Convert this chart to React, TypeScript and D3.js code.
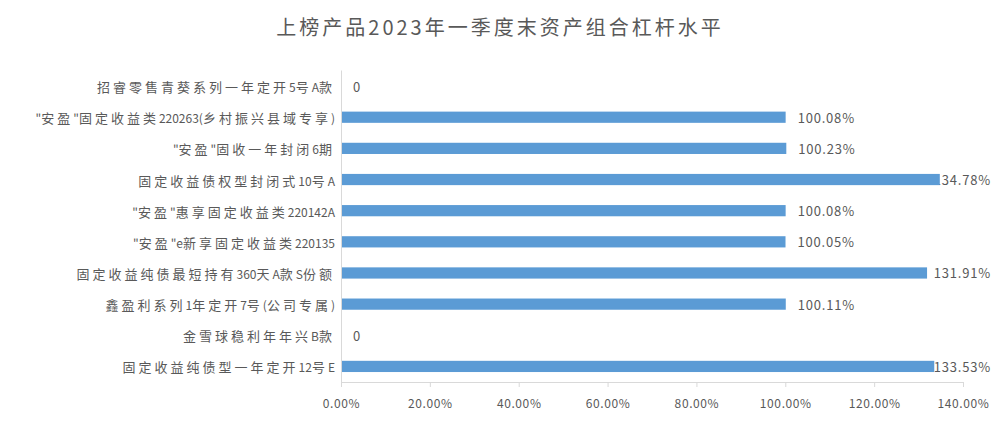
import React, { useEffect, useRef } from 'react';
import * as d3 from 'd3';

const categories = [
  '招睿零售青葵系列一年定开5号A款',
  '"安盈"固定收益类220263(乡村振兴县域专享)',
  '"安盈"固收一年封闭6期',
  '固定收益债权型封闭式10号A',
  '"安盈"惠享固定收益类220142A',
  '"安盈"e新享固定收益类220135',
  '固定收益纯债最短持有360天A款S份额',
  '鑫盈利系列1年定开7号(公司专属)',
  '金雪球稳利年年兴B款',
  '固定收益纯债型一年定开12号E',
];
const leverage = [0, 100.08, 100.23, 134.78, 100.08, 100.05, 131.91, 100.11, 0, 133.53];
const tickValues = [0, 20, 40, 60, 80, 100, 120, 140];

const title = '上榜产品2023年一季度末资产组合杠杆水平';

const FONT = '"Noto Sans CJK SC", "Noto Sans", sans-serif';
const TEXT = '#595959';
const BAR = '#5b9bd5';
const AXIS = '#d9d9d9';

// split a label into CJK / non-CJK runs so the wide CJK spacing can be mimicked
const splitRuns = (s: string) => {
  const runs: { text: string; cjk: boolean }[] = [];
  for (const ch of s) {
    const cjk = /[\u3000-\u9fff\uff00-\uffef]/.test(ch);
    const last = runs[runs.length - 1];
    if (last && last.cjk === cjk) last.text += ch;
    else runs.push({ text: ch, cjk });
  }
  return runs;
};

const App: React.FC = () => {
  const svgRef = useRef<SVGSVGElement>(null);
  const width = 1000;
  const height = 427;

  useEffect(() => {
    const svg = d3.select(svgRef.current);
    svg.selectAll('*').remove();

    const left = 341, right = 963, top = 70.5, bottom = 382;

    const x = d3.scaleLinear().domain([0, 140]).range([left, right]);
    const y = d3.scaleBand<string>()
      .domain(categories)
      .range([top, bottom])
      .paddingInner(0.64)
      .paddingOuter(0.32);

    svg.append('rect')
      .attr('width', width)
      .attr('height', height)
      .attr('fill', '#fff');

    // Title
    svg.append('text')
      .attr('x', width / 2)
      .attr('y', 30)
      .attr('text-anchor', 'middle')
      .attr('dominant-baseline', 'middle')
      .style('font-family', FONT)
      .style('font-size', '20px')
      .style('letter-spacing', '3px')
      .style('fill', TEXT)
      .text(title);

    // X axis
    const xAxis = svg.append('g')
      .attr('transform', `translate(0,${bottom})`)
      .call(d3.axisBottom(x)
        .tickValues(tickValues)
        .tickSize(5)
        .tickPadding(12)
        .tickFormat(d => `${(+d).toFixed(2)}%`));
    xAxis.select('.domain').attr('stroke', AXIS).attr('d', `M${left},0.5H${right}`);
    xAxis.selectAll('.tick line').attr('stroke', AXIS);
    xAxis.selectAll('.tick text')
      .style('font-family', FONT)
      .style('font-size', '12px')
      .style('letter-spacing', '0.6px')
      .style('fill', TEXT);

    // Y axis line
    svg.append('line')
      .attr('x1', left + 0.5)
      .attr('x2', left + 0.5)
      .attr('y1', top)
      .attr('y2', bottom)
      .attr('stroke', AXIS);

    // Category labels
    const catText = svg.append('g')
      .selectAll('text')
      .data(categories)
      .enter()
      .append('text')
      .attr('x', 335)
      .attr('y', d => (y(d) || 0) + y.bandwidth() / 2)
      .attr('text-anchor', 'end')
      .attr('dominant-baseline', 'central')
      .style('font-family', FONT)
      .style('font-size', '13px')
      .style('fill', TEXT);

    catText.each(function (d) {
      const t = d3.select(this);
      splitRuns(d).forEach(run => {
        t.append('tspan')
          .style('letter-spacing', run.cjk ? '3px' : '0px')
          .style('font-size', run.cjk ? '13px' : '12px')
          .text(run.text);
      });
    });

    // Data labels (drawn under bars, clamped to the right edge)
    const labels = svg.append('g')
      .selectAll('text')
      .data(leverage)
      .enter()
      .append('text')
      .attr('y', (d, i) => (y(categories[i]) || 0) + y.bandwidth() / 2)
      .attr('dominant-baseline', 'central')
      .style('font-family', FONT)
      .style('font-size', '13px')
      .style('letter-spacing', '0.8px')
      .style('fill', TEXT)
      .text(d => (d === 0 ? '0' : `${d.toFixed(2)}%`));

    labels.each(function (d) {
      const node = this as SVGTextElement;
      const w = node.getComputedTextLength();
      const pos = Math.min(x(d) + 12, 991 - w);
      d3.select(node).attr('x', pos);
    });

    // Bars
    svg.append('g')
      .selectAll('rect')
      .data(leverage)
      .enter()
      .append('rect')
      .attr('x', x(0) + 1)
      .attr('y', (d, i) => y(categories[i]) || 0)
      .attr('width', d => Math.max(0, x(d) - x(0) - 1))
      .attr('height', y.bandwidth())
      .attr('fill', BAR);
  }, []);

  return (
    <svg
      ref={svgRef}
      width={width}
      height={height}
      style={{ position: 'absolute', left: 0, top: 0, display: 'block' }}
    />
  );
};

export default App;
